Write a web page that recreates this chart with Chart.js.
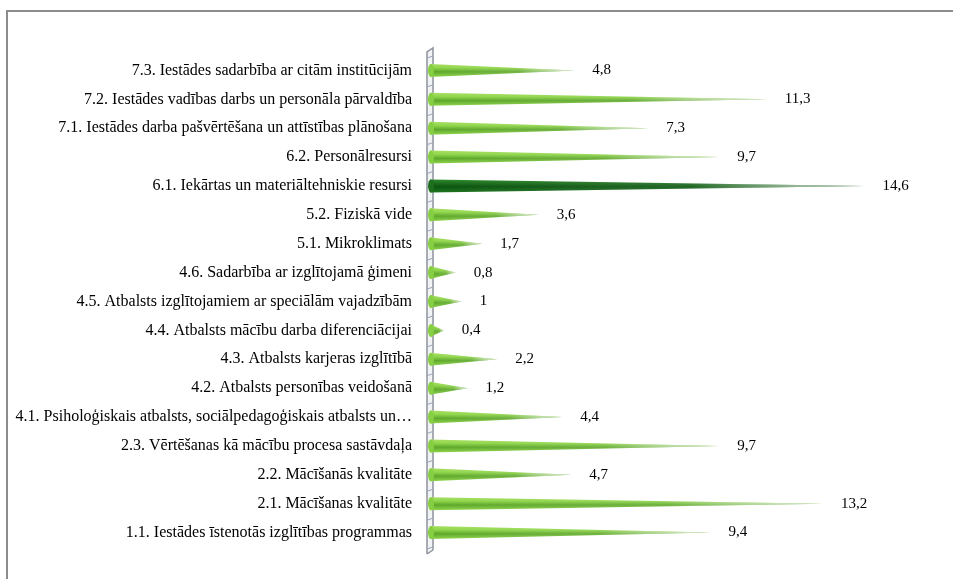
<!DOCTYPE html>
<html>
<head>
<meta charset="utf-8">
<script src="https://cdn.jsdelivr.net/npm/chart.js@4.4.1/dist/chart.umd.min.js"></script>
<style>
  html, body { margin: 0; padding: 0; background: #fff; }
  #wrap { position: relative; width: 953px; height: 579px; overflow: hidden; }
  #frame { position: absolute; left: 6px; top: 10px; width: 1000px; height: 700px;
           border-left: 2px solid #8c8c8c; border-top: 2px solid #8c8c8c; }
  canvas { position: absolute; left: 0; top: 0; }
</style>
</head>
<body>
<div id="wrap">
  <div id="frame"></div>
  <canvas id="chart" width="953" height="579"></canvas>
</div>
<script>
// kategorijas (no augšas uz leju)
const kategorijas = [
    '7.3. Iestādes sadarbība ar citām institūcijām',
    '7.2. Iestādes vadības darbs un personāla pārvaldība',
    '7.1. Iestādes darba pašvērtēšana un attīstības plānošana',
    '6.2. Personālresursi',
    '6.1. Iekārtas un materiāltehniskie resursi',
    '5.2. Fiziskā vide',
    '5.1. Mikroklimats',
    '4.6. Sadarbība ar izglītojamā ģimeni',
    '4.5. Atbalsts izglītojamiem ar speciālām vajadzībām',
    '4.4. Atbalsts mācību darba diferenciācijai',
    '4.3. Atbalsts karjeras izglītībā',
    '4.2. Atbalsts personības veidošanā',
    '4.1. Psiholoģiskais atbalsts, sociālpedagoģiskais atbalsts un…',
    '2.3. Vērtēšanas kā mācību procesa sastāvdaļa',
    '2.2. Mācīšanās kvalitāte',
    '2.1. Mācīšanas kvalitāte',
    '1.1. Iestādes īstenotās izglītības programmas'
];
// vērtības
const vertibas = [4.8, 11.3, 7.3, 9.7, 14.6, 3.6, 1.7, 0.8, 1, 0.4, 2.2, 1.2, 4.4, 9.7, 4.7, 13.2, 9.4];
// izceltā kategorija (tumši zaļa)
const izcelts = [false, false, false, false, true, false, false, false, false, false, false, false, false, false, false, false, false];

const fonts = '"Liberation Serif", "Times New Roman", serif';

// 3D siena kreisajā pusē
const sienaPlugin = {
    id: 'siena',
    beforeDatasetsDraw(chart) {
        const ctx = chart.ctx;
        const a = chart.chartArea;
        const yScale = chart.scales.y;
        const x1 = a.left - 5, x2 = a.left + 1;
        const top = a.top - 8, bot = a.bottom + 7;
        ctx.save();
        ctx.fillStyle = '#f2f3f5';
        ctx.beginPath();
        ctx.moveTo(x1, top + 4); ctx.lineTo(x2, top); ctx.lineTo(x2, bot - 4); ctx.lineTo(x1, bot);
        ctx.closePath(); ctx.fill();
        ctx.strokeStyle = '#8e929c';
        ctx.lineWidth = 1.5;
        ctx.beginPath();
        ctx.moveTo(x1, bot); ctx.lineTo(x1, top + 4); ctx.lineTo(x2, top); ctx.lineTo(x2, bot - 4);
        ctx.moveTo(x1, bot); ctx.lineTo(x2, bot - 4);
        ctx.stroke();
        ctx.strokeStyle = '#9aa3b8';
        ctx.lineWidth = 1;
        for (let i = 0; i <= kategorijas.length; i++) {
            const y = yScale.getPixelForValue(i - 0.5);
            ctx.beginPath(); ctx.moveTo(x1, y + 2); ctx.lineTo(x2, y); ctx.stroke();
        }
        ctx.restore();
    }
};

// konusa stabiņi + vērtību etiķetes
const konusiPlugin = {
    id: 'konusi',
    afterDatasetsDraw(chart) {
        const ctx = chart.ctx;
        const meta = chart.getDatasetMeta(0);
        meta.data.forEach((el, i) => {
            const p = el.getProps(['x', 'y', 'base', 'height'], true);
            const h = p.height / 2;
            const tumss = izcelts[i];
            ctx.save();
            ctx.beginPath();
            ctx.moveTo(p.base - 2, p.y - h);
            ctx.lineTo(p.x, p.y);
            ctx.lineTo(p.base - 2, p.y + h);
            ctx.closePath();
            const vg = ctx.createLinearGradient(0, p.y - h, 0, p.y + h);
            if (tumss) {
                vg.addColorStop(0, '#2f8a2c'); vg.addColorStop(0.55, '#0b5510'); vg.addColorStop(1, '#1f7420');
            } else {
                vg.addColorStop(0, '#a9df64'); vg.addColorStop(0.3, '#8fd64a'); vg.addColorStop(0.6, '#5da72a'); vg.addColorStop(1, '#90d64c');
            }
            ctx.fillStyle = vg;
            ctx.fill();
            const hg = ctx.createLinearGradient(p.base, 0, p.x, 0);
            hg.addColorStop(0, 'rgba(255,255,255,0)');
            hg.addColorStop(0.6, 'rgba(255,255,255,0.1)');
            hg.addColorStop(1, 'rgba(235,238,232,0.9)');
            ctx.fillStyle = hg;
            ctx.fill();
            // pamatne
            ctx.beginPath();
            ctx.ellipse(p.base - 1, p.y, 3, h, 0, 0, Math.PI * 2);
            ctx.fillStyle = tumss ? '#1d6e1d' : '#86cf42';
            ctx.fill();
            ctx.restore();

            ctx.save();
            ctx.font = '15px ' + fonts;
            ctx.fillStyle = '#000';
            ctx.textAlign = 'left';
            ctx.textBaseline = 'middle';
            ctx.fillText(String(vertibas[i]).replace('.', ','), p.x + 18, p.y);
            ctx.restore();
        });
    }
};

const dati = {
    labels: kategorijas,
    datasets: [{
        data: vertibas,
        backgroundColor: 'rgba(0,0,0,0)',
        borderWidth: 0,
        barThickness: 13
    }]
};

const konfig = {
    type: 'bar',
    data: dati,
    options: {
        indexAxis: 'y',
        responsive: false,
        animation: false,
        events: [],
        layout: { padding: { top: 56, bottom: 32, right: 47, left: 0 } },
        plugins: { legend: { display: false }, tooltip: { enabled: false }, title: { display: false } },
        scales: {
            x: {
                min: 0, max: 16, display: false
            },
            y: {
                grid: { display: false },
                border: { display: false },
                afterFit(scale) { scale.width = 432; },
                ticks: {
                    autoSkip: false,
                    padding: 12,
                    color: '#000',
                    font: { family: fonts, size: 16 }
                }
            }
        }
    },
    plugins: [sienaPlugin, konusiPlugin]
};

const grafiks = new Chart(document.getElementById('chart'), konfig);
</script>
</body>
</html>
